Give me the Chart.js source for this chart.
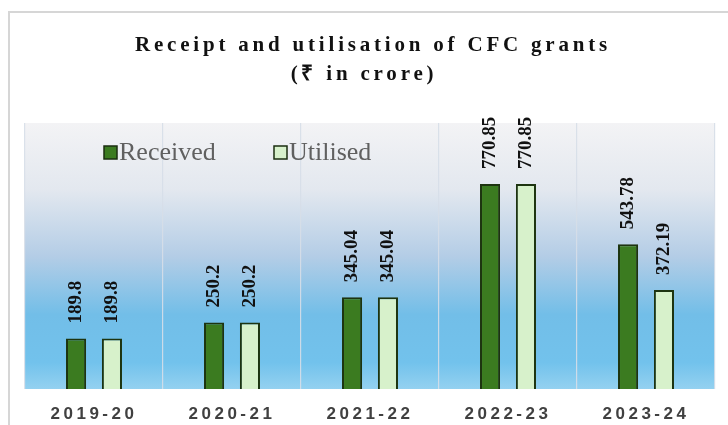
<!DOCTYPE html>
<html>
<head>
<meta charset="utf-8">
<script src="https://cdn.jsdelivr.net/npm/chart.js@4.4.1/dist/chart.umd.min.js"></script>
<style>
  html, body { margin: 0; padding: 0; background: #ffffff; }
  #wrap { width: 728px; height: 425px; }
</style>
</head>
<body>
<div id="wrap"><canvas id="cfcChart" width="728" height="425"></canvas></div>
<script>
const years = ['2019-20', '2020-21', '2021-22', '2022-23', '2023-24'];
const received = [189.8, 250.2, 345.04, 770.85, 543.78];
const utilised = [189.8, 250.2, 345.04, 770.85, 372.19];
const titleLines = ['Receipt and utilisation of CFC grants', '(₹ in crore)'];

// background, frame, title (drawn before scales so grid lies on top of gradient)
const backdrop = {
    id: 'backdrop',
    beforeDraw(chart) {
        const ctx = chart.ctx;
        const a = chart.chartArea;
        ctx.save();
        ctx.fillStyle = '#ffffff';
        ctx.fillRect(0, 0, chart.width, chart.height);

        ctx.strokeStyle = '#d6d6d6';
        ctx.lineWidth = 2;
        ctx.beginPath();
        ctx.moveTo(9, chart.height);
        ctx.lineTo(9, 12);
        ctx.lineTo(chart.width, 12);
        ctx.stroke();

        const g = ctx.createLinearGradient(0, a.top, 0, a.bottom);
        g.addColorStop(0, '#f3f3f5');
        g.addColorStop(0.25, '#e3e8ef');
        g.addColorStop(0.5, '#b4cde6');
        g.addColorStop(0.72, '#72bee8');
        g.addColorStop(0.9, '#72c2ec');
        g.addColorStop(1, '#94d1f0');
        ctx.fillStyle = g;
        ctx.fillRect(a.left, a.top, a.right - a.left, a.bottom - a.top);

        ctx.fillStyle = '#111111';
        ctx.font = 'bold 21px "Liberation Serif", serif';
        ctx.textAlign = 'center';
        ctx.textBaseline = 'middle';
        ctx.letterSpacing = '3.8px';
        ctx.fillText(titleLines[0], 373, 46);
        ctx.fillText(titleLines[1], 364, 75);
        ctx.restore();

        // spacing for the x tick labels
        ctx.letterSpacing = '3.5px';
    },
    beforeDatasetsDraw(chart) {
        chart.ctx.letterSpacing = '0px';
    },
    afterDatasetsDraw(chart) {
        const ctx = chart.ctx;
        ctx.save();
        // rotated value labels above each bar
        ctx.fillStyle = '#111111';
        ctx.font = 'bold 19px "Liberation Serif", serif';
        ctx.textAlign = 'left';
        ctx.textBaseline = 'middle';
        chart.data.datasets.forEach((ds, i) => {
            chart.getDatasetMeta(i).data.forEach((bar, j) => {
                ctx.save();
                ctx.translate(bar.x, bar.y - 15);
                ctx.rotate(-Math.PI / 2);
                ctx.fillText(String(ds.data[j]), 0, 0);
                ctx.restore();
            });
        });

        // legend inside the plot area
        const items = [{x: 104}, {x: 274}];
        ctx.font = '26px "Liberation Serif", serif';
        chart.data.datasets.forEach((ds, i) => {
            const x = items[i].x, y = 152;
            ctx.fillStyle = ds.backgroundColor;
            ctx.fillRect(x, y - 6, 13, 13);
            ctx.strokeStyle = '#1b2e10';
            ctx.lineWidth = 1.5;
            ctx.strokeRect(x, y - 6, 13, 13);
            ctx.fillStyle = '#606060';
            ctx.fillText(ds.label, x + 15, y + 1);
        });
        ctx.restore();
    },
    afterDraw(chart) {
        chart.ctx.letterSpacing = '0px';
    }
};

const cfcData = {
    labels: years,
    datasets: [{
        label: 'Received',
        data: received,
        backgroundColor: '#3b7b20',
        borderColor: '#1d3410',
        borderWidth: 2,
    }, {
        label: 'Utilised',
        data: utilised,
        backgroundColor: '#d7f1cb',
        borderColor: '#1d3410',
        borderWidth: 2,
    }]
};

const cfcConfig = {
    type: 'bar',
    data: cfcData,
    options: {
        responsive: false,
        animation: false,
        datasets: {
            bar: {
                categoryPercentage: 0.52,
                barPercentage: 0.56,
            }
        },
        layout: {
            padding: {top: 123, left: 25, right: 13, bottom: 0},
        },
        plugins: {
            legend: {display: false},
            title: {display: false},
            tooltip: {enabled: false},
        },
        scales: {
            x: {
                afterFit(scale) { scale.height = 36; },
                grid: {
                    color: 'rgba(214, 222, 232, 0.9)',
                    lineWidth: 1.2,
                    drawTicks: false,
                },
                border: {display: false},
                ticks: {
                    color: '#404040',
                    padding: 15,
                    font: {family: '"Liberation Sans", Arial, sans-serif', weight: 'bold', size: 17},
                },
            },
            y: {
                display: false,
                min: 0,
                max: 1000,
            },
        },
    },
    plugins: [backdrop],
};

const cfcChart = new Chart(document.getElementById('cfcChart'), cfcConfig);
</script>
</body>
</html>
